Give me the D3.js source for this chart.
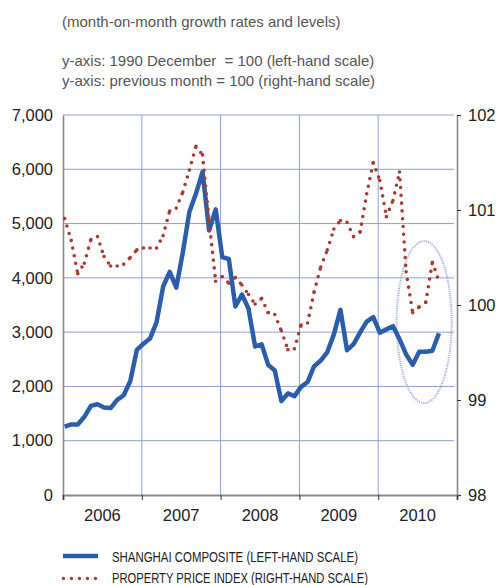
<!doctype html>
<html lang="en">
<head>
    <meta charset="utf-8">
    <title>Shanghai Composite and Property Price Index</title>
    <script src="https://d3js.org/d3.v7.min.js"></script>
    <style>
        body { margin: 0; padding: 0; background: #fff; }
        svg { display: block; }
        .note { font-family: 'Liberation Sans', Arial, sans-serif; font-size: 15px; fill: #555; white-space: pre; }
        .tick-label { font-family: 'Liberation Sans', Arial, sans-serif; font-size: 16.5px; fill: #222; }
        .legend { font-family: 'Liberation Sans', Arial, sans-serif; font-size: 15.5px; fill: #222; }
    </style>
</head>
<body>
<div class="chart"></div>
<script>
    // monthly observations, Jan 2006 .. Oct 2010
    const years = ["2006", "2007", "2008", "2009", "2010"];
    const shanghai = [
        1258, 1299, 1298, 1440, 1642, 1672, 1612, 1601, 1752, 1837, 2099, 2675,
        2786, 2881, 3183, 3841, 4109, 3820, 4471, 5218, 5552, 5954, 4871, 5262,
        4383, 4348, 3473, 3693, 3433, 2736, 2775, 2397, 2293, 1729, 1871, 1821,
        1991, 2082, 2373, 2477, 2633, 2959, 3412, 2667, 2779, 2996, 3195, 3277,
        2989, 3051, 3110, 2870, 2592, 2398, 2638, 2639, 2656, 2979
    ];
    const property = [
        100.91, 100.68, 100.33, 100.44, 100.69, 100.72, 100.51, 100.41, 100.41, 100.43, 100.50, 100.58,
        100.60, 100.60, 100.60, 100.73, 100.99, 101.02, 101.19, 101.42, 101.67, 101.58, 100.88, 100.25,
        100.30, 100.23, 100.29, 100.21, 100.11, 100.01, 100.07, 99.92, 99.90, 99.73, 99.53, 99.54,
        99.79, 99.81, 100.14, 100.40, 100.58, 100.80, 100.89, 100.87, 100.72, 100.77, 101.17, 101.50,
        101.31, 100.93, 101.10, 101.40, 100.35, 99.92, 99.98, 100.03, 100.45, 100.25
    ];
    const leftTicks = [0, 1000, 2000, 3000, 4000, 5000, 6000, 7000];
    const rightTicks = [98, 99, 100, 101, 102];
    const notes = [
        "(month-on-month growth rates and levels)",
        "y-axis: 1990 December  = 100 (left-hand scale)",
        "y-axis: previous month = 100 (right-hand scale)"
    ];
    const legendLabels = ["SHANGHAI COMPOSITE (LEFT-HAND SCALE)", "PROPERTY PRICE INDEX (RIGHT-HAND SCALE)"];

    const width = 499, height = 585;
    const plot = {left: 63, right: 457, top: 115, bottom: 495};

    const svg = d3.select(".chart").append("svg")
        .attr("width", width)
        .attr("height", height);

    // month index scale, points sit a little after the month boundary
    const x = d3.scaleLinear().domain([0, 60]).range([plot.left, plot.right]);
    const xm = i => x(i + 0.25);
    const yL = d3.scaleLinear().domain([0, 7000]).range([plot.bottom, plot.top]);
    const yR = d3.scaleLinear().domain([98, 102]).range([plot.bottom, plot.top]);

    // notes above the chart
    svg.selectAll("text.note")
        .data(notes)
        .enter()
        .append("text")
        .attr("class", "note")
        .attr("x", 62)
        .attr("y", (d, i) => i === 0 ? 26.5 : 46 + i * 20)
        .text(d => d);

    // grid
    const grid = svg.append("g").attr("class", "grid")
        .style("stroke", "#8d9fd8").style("stroke-width", 1);
    grid.selectAll("line.h")
        .data(leftTicks.slice(1))
        .enter()
        .append("line")
        .attr("x1", plot.left).attr("x2", plot.right - 3)
        .attr("y1", d => yL(d)).attr("y2", d => yL(d));
    grid.selectAll("line.v")
        .data(d3.range(12, 60, 12))
        .enter()
        .append("line")
        .attr("x1", d => x(d)).attr("x2", d => x(d))
        .attr("y1", plot.top).attr("y2", plot.bottom);

    // axes (drawn by d3-axis, then styled)
    const axisColor = "#8a8a8a";

    const left = svg.append("g")
        .attr("transform", `translate(${plot.left},0)`)
        .call(d3.axisLeft(yL).tickValues(leftTicks).tickFormat(d3.format(",")).tickSize(0).tickPadding(10));
    const right = svg.append("g")
        .attr("transform", `translate(${plot.right},0)`)
        .call(d3.axisRight(yR).tickValues(rightTicks).tickFormat(d3.format("d")).tickSize(4).tickPadding(7));
    const bottom = svg.append("g")
        .attr("transform", `translate(0,${plot.bottom})`)
        .call(d3.axisBottom(x).tickValues(d3.range(0, 61, 12)).tickFormat("").tickSize(5));

    [left, right, bottom].forEach(a => {
        a.attr("font-size", null).attr("font-family", null);
        a.select(".domain").attr("stroke", axisColor).attr("stroke-width", 1.6);
        a.selectAll(".tick line").attr("stroke", "#333").attr("stroke-width", 1);
        a.selectAll(".tick text").attr("class", "tick-label").attr("fill", "#222");
    });
    bottom.select(".domain").attr("stroke-width", 2.2);

    // year labels centred in each year band
    svg.selectAll("text.year")
        .data(years)
        .enter()
        .append("text")
        .attr("class", "tick-label")
        .attr("x", (d, i) => x(i * 12 + 6))
        .attr("y", 521)
        .attr("text-anchor", "middle")
        .text(d => d);

    // highlight ellipse around 2010
    svg.append("ellipse")
        .attr("cx", x(55))
        .attr("cy", yR(99.82))
        .attr("rx", 27.5)
        .attr("ry", 81)
        .style("fill", "none")
        .style("stroke", "#a6b3e2")
        .style("stroke-width", 2)
        .style("stroke-dasharray", "1.2 1");

    // Shanghai composite
    const lineL = d3.line().x((d, i) => xm(i)).y(d => yL(d));
    svg.append("path")
        .datum(shanghai)
        .attr("d", lineL)
        .style("fill", "none")
        .style("stroke", "#2b5dab")
        .style("stroke-width", 4.5)
        .style("stroke-linejoin", "round");

    // property price index, dotted, dash pattern restarts on each segment
    const pts = property.map((v, i) => [xm(i), yR(v)]);
    svg.append("g").attr("class", "property")
        .selectAll("path")
        .data(d3.pairs(pts))
        .enter()
        .append("path")
        .attr("d", d3.line())
        .style("fill", "none")
        .style("stroke", "#aa3a30")
        .style("stroke-width", 3.6)
        .style("stroke-linecap", "round")
        .style("stroke-dasharray", "0 7.8");

    // legend, narrow lettering squeezed to the reference widths
    const legendWidths = [246, 256];
    const legend = svg.append("g").attr("class", "legend-g");
    legend.append("line")
        .attr("x1", 63).attr("x2", 98).attr("y1", 556).attr("y2", 556)
        .style("stroke", "#2b5dab").style("stroke-width", 4.5);
    legend.append("line")
        .attr("x1", 63.5).attr("x2", 97).attr("y1", 578.5).attr("y2", 578.5)
        .style("stroke", "#aa3a30").style("stroke-width", 3.4)
        .style("stroke-linecap", "round").style("stroke-dasharray", "0 8");
    legend.selectAll("text")
        .data(legendLabels)
        .enter()
        .append("text")
        .attr("class", "legend")
        .attr("x", 112)
        .attr("y", (d, i) => 562 + i * 21)
        .attr("textLength", (d, i) => legendWidths[i])
        .attr("lengthAdjust", "spacingAndGlyphs")
        .text(d => d);
</script>
</body>
</html>
